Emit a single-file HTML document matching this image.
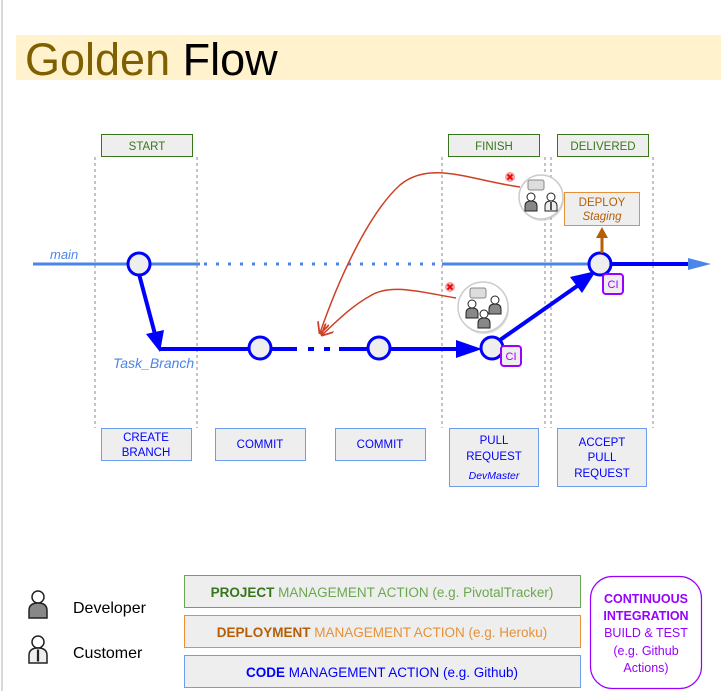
<!DOCTYPE html>
<html><head><meta charset="utf-8"><style>
html,body{margin:0;padding:0;background:#fff;}
svg{display:block;}
text{font-family:"Liberation Sans",sans-serif;}
</style></head><body>
<svg width="721" height="691" viewBox="0 0 721 691" xmlns="http://www.w3.org/2000/svg">
<defs>
<marker id="ar" viewBox="0 0 10 10" refX="9" refY="5" markerWidth="8" markerHeight="8" orient="auto" markerUnits="strokeWidth"><path d="M0,0 L10,5 L0,10" fill="none" stroke="#cc4125" stroke-width="1.5"/></marker>
<g id="dev"><circle cx="0" cy="-6" r="4" fill="#fff" stroke="#222" stroke-width="1"/><path d="M-6,8 L-6,3 Q-6,-2 0,-2 Q6,-2 6,3 L6,8 Z" fill="#888" stroke="#222" stroke-width="1"/></g>
<g id="cus"><circle cx="0" cy="-6" r="4" fill="#fff" stroke="#222" stroke-width="1"/><path d="M-6,8 L-6,3 Q-6,-2 0,-2 Q6,-2 6,3 L6,8 Z" fill="#eee" stroke="#222" stroke-width="1"/><line x1="0" y1="-1" x2="0" y2="7" stroke="#222" stroke-width="1.5"/></g>
</defs>
<line x1="2" y1="0" x2="2" y2="691" stroke="#d8d8d8" stroke-width="2"/>
<rect x="16" y="35" width="705" height="45" fill="#fff2cc"/>
<text x="25" y="75" font-size="45" fill="#7f6000">Golden <tspan fill="#000">Flow</tspan></text>

<g stroke="#888" stroke-width="1" stroke-dasharray="3,3">
<line x1="95" y1="157" x2="95" y2="428"/><line x1="197" y1="157" x2="197" y2="428"/>
<line x1="442" y1="157" x2="442" y2="428"/><line x1="545" y1="157" x2="545" y2="428"/>
<line x1="551" y1="157" x2="551" y2="428"/><line x1="653" y1="157" x2="653" y2="428"/>
</g>
<g fill="#eeeeee" stroke="#38761d" stroke-width="1">
<rect x="101.5" y="134.5" width="91" height="22"/><rect x="448.5" y="134.5" width="91" height="22"/><rect x="557.5" y="134.5" width="91" height="22"/>
</g>
<g font-size="11.5" fill="#38761d" text-anchor="middle">
<text x="147" y="150">START</text><text x="494" y="150">FINISH</text><text x="603" y="150">DELIVERED</text>
</g>

<line x1="33" y1="264" x2="200" y2="264" stroke="#4a86e8" stroke-width="3"/>
<line x1="204" y1="264" x2="442" y2="264" stroke="#4a86e8" stroke-width="3" stroke-dasharray="3,9"/>
<line x1="442" y1="264" x2="690" y2="264" stroke="#4a86e8" stroke-width="3"/>
<line x1="600" y1="264" x2="690" y2="264" stroke="#0000ff" stroke-width="4"/>
<path d="M688,258 L711,264 L688,270 z" fill="#4a86e8"/>
<text x="50" y="259" font-size="13" font-style="italic" fill="#4a86e8">main</text>

<line x1="139" y1="274" x2="156" y2="338" stroke="#0000ff" stroke-width="4"/>
<path d="M146,334 L164,330 L160,352 z" fill="#0000ff"/>
<line x1="160" y1="349" x2="297" y2="349" stroke="#0000ff" stroke-width="4"/>
<g stroke="#0000ff" stroke-width="4"><line x1="308" y1="349" x2="314" y2="349"/><line x1="324" y1="349" x2="330" y2="349"/></g>
<line x1="339" y1="349" x2="462" y2="349" stroke="#0000ff" stroke-width="4"/>
<path d="M456,340 L482,349 L456,358 z" fill="#0000ff"/>
<line x1="500" y1="340" x2="580" y2="284" stroke="#0000ff" stroke-width="4"/>
<path d="M570,277 L596,271 L582,293 z" fill="#0000ff"/>
<text x="113" y="368" font-size="14" font-style="italic" fill="#4a86e8">Task_Branch</text>

<g fill="#eeeeee" stroke="#0000ff" stroke-width="3">
<circle cx="139" cy="264" r="11"/><circle cx="260" cy="348" r="11"/><circle cx="379" cy="348" r="11"/><circle cx="492" cy="348" r="11"/><circle cx="600" cy="264" r="11"/>
</g>
<g fill="#eeeeee" stroke="#9900ff" stroke-width="2">
<rect x="501" y="346" width="20" height="20" rx="3"/><rect x="603" y="274" width="20" height="20" rx="3"/>
</g>
<g font-size="11" fill="#9900ff" text-anchor="middle"><text x="511" y="360">CI</text><text x="613" y="288">CI</text></g>

<line x1="602" y1="253" x2="602" y2="234" stroke="#b45f06" stroke-width="3"/>
<path d="M596,238 L602,227 L608,238 z" fill="#b45f06"/>
<rect x="564.5" y="192.5" width="75" height="33" fill="#eeeeee" stroke="#e69138" stroke-width="1"/>
<text x="602" y="206" font-size="11.5" fill="#b45f06" text-anchor="middle">DEPLOY</text>
<text x="602" y="220" font-size="11.5" font-style="italic" fill="#b45f06" text-anchor="middle">Staging</text>

<path d="M520,187 C470,180 430,160 400,185 C370,212 340,275 320,333" fill="none" stroke="#cc4125" stroke-width="1.5" marker-end="url(#ar)"/>
<path d="M456,298 C420,292 390,283 370,296 C352,306 338,320 322,335" fill="none" stroke="#cc4125" stroke-width="1.5" marker-end="url(#ar)"/>
<g><circle cx="510" cy="177" r="5" fill="#f4a0a0"/><path d="M507.5,174.5 L512.5,179.5 M512.5,174.5 L507.5,179.5" stroke="#e00" stroke-width="1.8"/></g>
<g><circle cx="450" cy="287" r="5" fill="#f4a0a0"/><path d="M447.5,284.5 L452.5,289.5 M452.5,284.5 L447.5,289.5" stroke="#e00" stroke-width="1.8"/></g>

<circle cx="542" cy="199" r="22" fill="#aaa" opacity="0.4"/>
<circle cx="541" cy="197" r="22" fill="#fff" stroke="#ccc" stroke-width="1.5"/>
<rect x="528" y="180" width="16" height="10" rx="2" fill="#ddd" stroke="#888"/>
<use href="#dev" x="531" y="203"/><use href="#cus" x="551" y="203"/>
<circle cx="484" cy="309" r="25" fill="#aaa" opacity="0.4"/>
<circle cx="483" cy="307" r="25" fill="#fff" stroke="#ccc" stroke-width="1.5"/>
<rect x="470" y="288" width="16" height="10" rx="2" fill="#ddd" stroke="#888"/>
<use href="#dev" x="472" y="310"/><use href="#dev" x="484" y="320"/><use href="#dev" x="495" y="306"/>

<g fill="#eeeeee" stroke="#6d9eeb" stroke-width="1">
<rect x="101.5" y="428.5" width="90" height="32"/><rect x="215.5" y="428.5" width="90" height="32"/><rect x="335.5" y="428.5" width="90" height="32"/>
<rect x="449.5" y="428.5" width="89" height="58"/><rect x="557.5" y="428.5" width="89" height="58"/>
</g>
<g font-size="11.5" fill="#0000ff" text-anchor="middle">
<text x="146" y="441">CREATE</text><text x="146" y="456">BRANCH</text>
<text x="260" y="448">COMMIT</text><text x="380" y="448">COMMIT</text>
<text x="494" y="444">PULL</text><text x="494" y="460">REQUEST</text>
<text x="494" y="479" font-size="10.5" font-style="italic">DevMaster</text>
<text x="602" y="446">ACCEPT</text><text x="602" y="461">PULL</text><text x="602" y="477">REQUEST</text>
</g>

<g transform="translate(38,606) scale(1.5)"><use href="#dev"/></g>
<g transform="translate(38,651) scale(1.5)"><use href="#cus"/></g>
<text x="73" y="613" font-size="16" fill="#000">Developer</text>
<text x="73" y="658" font-size="16" fill="#000">Customer</text>
<rect x="184.5" y="575.5" width="396" height="32" fill="#eeeeee" stroke="#6aa84f"/>
<rect x="184.5" y="615.5" width="396" height="32" fill="#eeeeee" stroke="#e69138"/>
<rect x="184.5" y="655.5" width="396" height="32" fill="#eeeeee" stroke="#6d9eeb"/>
<text x="382" y="597" font-size="13.5" fill="#6aa84f" text-anchor="middle"><tspan font-weight="bold" fill="#38761d">PROJECT</tspan> MANAGEMENT ACTION (e.g. PivotalTracker)</text>
<text x="382" y="637" font-size="13.5" fill="#e69138" text-anchor="middle"><tspan font-weight="bold" fill="#b45f06">DEPLOYMENT</tspan> MANAGEMENT ACTION (e.g. Heroku)</text>
<text x="382" y="677" font-size="13.5" fill="#0000ff" text-anchor="middle"><tspan font-weight="bold">CODE</tspan> MANAGEMENT ACTION (e.g. Github)</text>
<rect x="590.5" y="576.5" width="111" height="112" rx="22" fill="#fff" stroke="#9900ff" stroke-width="1.2"/>
<g font-size="12.5" fill="#9900ff" text-anchor="middle">
<text x="646" y="603" font-weight="bold">CONTINUOUS</text>
<text x="646" y="620" font-weight="bold">INTEGRATION</text>
<text x="646" y="637">BUILD &amp; TEST</text>
<text x="646" y="655">(e.g. Github</text>
<text x="646" y="672">Actions)</text>
</g>
</svg>
</body></html>
